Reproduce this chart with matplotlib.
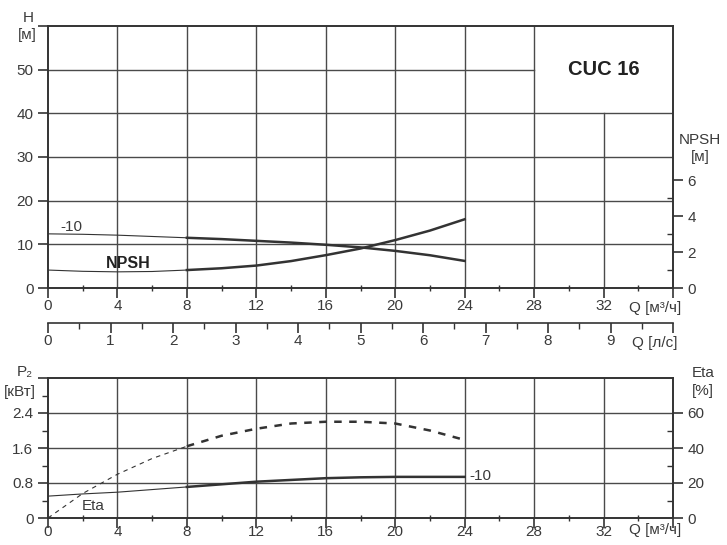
import numpy as np
import matplotlib
matplotlib.use("Agg")
import matplotlib.pyplot as plt
from matplotlib.ticker import FixedLocator, FixedFormatter

plt.rcParams['font.family'] = ['Liberation Sans', 'DejaVu Sans']

# data
q = [0, 2, 4, 6, 8, 10, 12, 14, 16, 18, 20, 22, 24]
head = [12.4, 12.3, 12.1, 11.8, 11.5, 11.2, 10.8, 10.4, 9.9, 9.3, 8.5, 7.5, 6.2]
npsh = [1.0, 0.93, 0.9, 0.92, 1.0, 1.1, 1.25, 1.5, 1.83, 2.2, 2.67, 3.2, 3.83]
p2 = [0.50, 0.55, 0.59, 0.65, 0.71, 0.77, 0.83, 0.87, 0.91, 0.93, 0.94, 0.94, 0.94]
eta = [0, 14, 25, 34, 41, 47, 51, 54, 55, 55, 54, 50, 44.6]
split = 4  # index of Q = 8, thin before / thick after

q_ticks = [0, 4, 8, 12, 16, 20, 24, 28, 32, 36]
q_labels = ['0', '4', '8', '12', '16', '20', '24', '28', '32', '']
ls_ticks = list(range(11))
ls_labels = [str(i) for i in range(10)] + ['']

LC = '#333333'
GC = '#4a4a4a'
TC = '#3a3a3a'
FS = 11

fig = plt.figure(figsize=(7.27, 5.45), dpi=100)
ax1 = fig.add_axes([48/727, 1-288/545, 625/727, 262/545])
ax2 = fig.add_axes([48/727, 1-518/545, 625/727, 140/545])


def style(ax):
    for s in ax.spines.values():
        s.set_color(LC)
        s.set_linewidth(1.2)
    ax.tick_params(which='major', length=7, width=1.2, color=LC, labelcolor=TC, labelsize=FS)
    ax.tick_params(which='minor', length=4, width=1, color=LC, direction='inout')


# ---- top: H and NPSH
ax1.set_xlim(0, 36)
ax1.set_ylim(0, 60)
for x in [4, 8, 12, 16, 20, 24, 28]:
    ax1.plot([x, x], [0, 60], color=GC, lw=1)
ax1.plot([32, 32], [0, 40], color=GC, lw=1)
for y in [10, 20, 30, 40]:
    ax1.plot([0, 36], [y, y], color=GC, lw=1)
ax1.plot([0, 28], [50, 50], color=GC, lw=1)

ax1.plot(q[:split+1], head[:split+1], color=LC, lw=0.8)
ax1.plot(q[split:], head[split:], color=LC, lw=1.8)
ax1.text(0.7, 13.9, '-10', fontsize=FS, color=TC, va='center')
ax1.text(4.6, 5.7, 'NPSH', fontsize=11.5, fontweight='bold', color='#222', ha='center', va='center')
ax1.text(32, 50, 'CUC 16', fontsize=14.5, fontweight='bold', color='#222', ha='center', va='center')

ax1.xaxis.set_major_locator(FixedLocator(q_ticks))
ax1.xaxis.set_major_formatter(FixedFormatter(q_labels))
ax1.xaxis.set_minor_locator(FixedLocator(np.arange(2, 36, 4)))
ax1.yaxis.set_major_locator(FixedLocator([0, 10, 20, 30, 40, 50, 60]))
ax1.yaxis.set_major_formatter(FixedFormatter(['0', '10', '20', '30', '40', '50', '']))
style(ax1)
ax1.tick_params(axis='x', pad=1)

ax1r = ax1.twinx()
ax1r.set_ylim(0, 14.6)
ax1r.plot(q[:split+1], npsh[:split+1], color=LC, lw=0.8)
ax1r.plot(q[split:], npsh[split:], color=LC, lw=1.8)
ax1r.yaxis.set_major_locator(FixedLocator([0, 2, 4, 6]))
ax1r.yaxis.set_minor_locator(FixedLocator([1, 3, 5]))
style(ax1r)
ax1r.tick_params(which='minor', direction='in')

sec = ax1.secondary_xaxis(-0.134, functions=(lambda v: v/3.6, lambda v: v*3.6))
sec.xaxis.set_major_locator(FixedLocator(ls_ticks))
sec.xaxis.set_major_formatter(FixedFormatter(ls_labels))
sec.xaxis.set_minor_locator(FixedLocator(np.arange(0.5, 10, 1)))
sec.spines['bottom'].set_color(LC)
sec.spines['bottom'].set_linewidth(1.2)
sec.tick_params(which='major', length=7, width=1.2, color=LC, labelcolor=TC, labelsize=FS, pad=1)
sec.tick_params(which='minor', length=4, width=1, color=LC)

# ---- bottom: P2 and Eta
ax2.set_xlim(0, 36)
ax2.set_ylim(0, 3.2)
for x in [4, 8, 12, 16, 20, 24, 28, 32]:
    ax2.plot([x, x], [0, 3.2], color=GC, lw=1)
for y in [0.8, 1.6, 2.4]:
    ax2.plot([0, 36], [y, y], color=GC, lw=1)
ax2.plot(q[:split+1], p2[:split+1], color=LC, lw=0.8)
ax2.plot(q[split:], p2[split:], color=LC, lw=1.8)
ax2.text(24.3, 0.95, '-10', fontsize=FS, color=TC, va='center')
ax2.text(2.6, 0.27, 'Eta', fontsize=FS, color=TC, ha='center', va='center')

ax2.xaxis.set_major_locator(FixedLocator(q_ticks))
ax2.xaxis.set_major_formatter(FixedFormatter(q_labels))
ax2.xaxis.set_minor_locator(FixedLocator(np.arange(2, 36, 4)))
ax2.yaxis.set_major_locator(FixedLocator([0, 0.8, 1.6, 2.4, 3.2]))
ax2.yaxis.set_major_formatter(FixedFormatter(['0', '0.8', '1.6', '2.4', '']))
ax2.yaxis.set_minor_locator(FixedLocator([0.4, 1.2, 2.0, 2.8]))
style(ax2)
ax2.tick_params(axis='y', which='minor', direction='out')
ax2.tick_params(axis='x', which='major', pad=-2)

ax2r = ax2.twinx()
ax2r.set_ylim(0, 80)
ax2r.plot(q[:split+1], eta[:split+1], color=LC, lw=0.8, ls=(0, (4, 4)))
ax2r.plot(q[split:], eta[split:], color=LC, lw=1.8, ls=(0, (3, 3)))
ax2r.yaxis.set_major_locator(FixedLocator([0, 20, 40, 60]))
ax2r.yaxis.set_minor_locator(FixedLocator([10, 30, 50]))
style(ax2r)
ax2r.tick_params(which='minor', direction='in')

# ---- axis titles
def ft(x, y, s, **kw):
    fig.text(x/727, 1-y/545, s, fontsize=FS, color=TC, ha='center', va='center', **kw)

ft(28, 18, 'H')
ft(27, 35, '[м]')
ft(700, 140, 'NPSH')
ft(700, 157, '[м]')
ft(655, 308, 'Q [м³/ч]')
ft(655, 343, 'Q [л/с]')
ft(25, 372, 'P₂')
ft(20, 392, '[кВт]')
ft(703, 373, 'Eta')
ft(703, 391, '[%]')
ft(655, 530, 'Q [м³/ч]')

fig.savefig('out.png', dpi=100)
